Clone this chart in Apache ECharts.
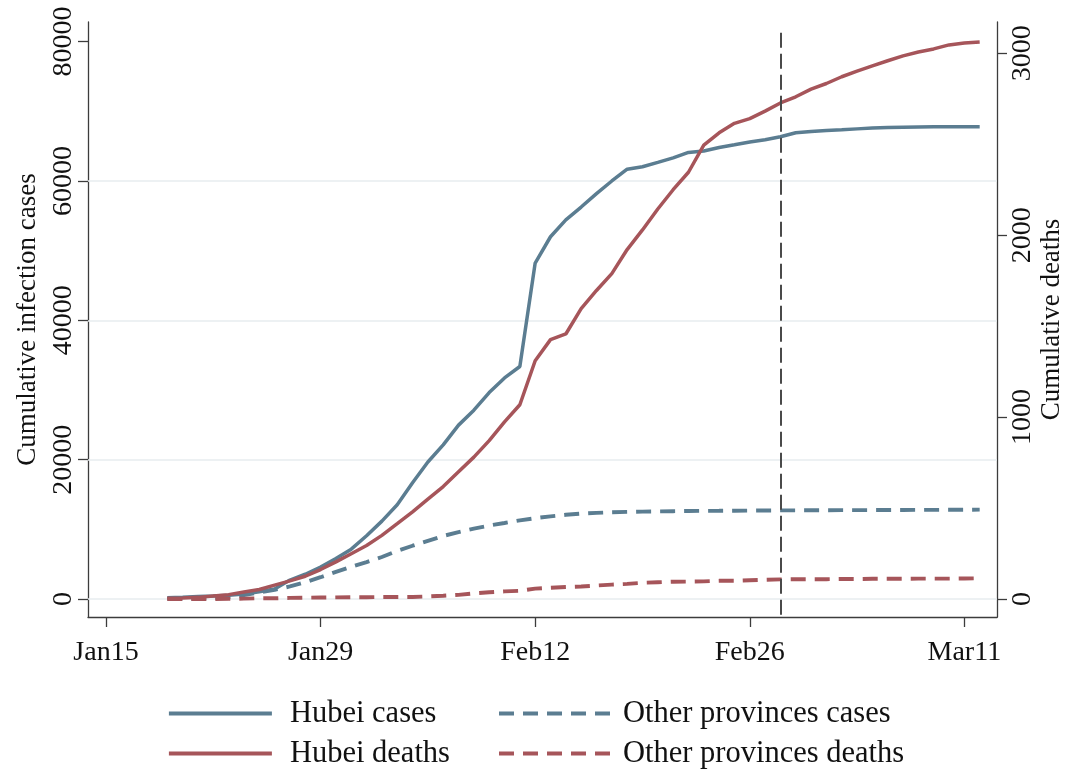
<!DOCTYPE html>
<html><head><meta charset="utf-8">
<script src="https://cdn.jsdelivr.net/npm/echarts@6/dist/echarts.min.js"></script>
<style>html,body{margin:0;padding:0;background:#fff}#c{width:1073px;height:773px}</style>
</head><body><div id="c"></div>
<script>
// ---------------- data ----------------
const dates = [
 '2020-01-19','2020-01-20','2020-01-21','2020-01-22','2020-01-23','2020-01-24','2020-01-25','2020-01-26','2020-01-27','2020-01-28',
 '2020-01-29','2020-01-30','2020-01-31','2020-02-01','2020-02-02','2020-02-03','2020-02-04','2020-02-05','2020-02-06','2020-02-07',
 '2020-02-08','2020-02-09','2020-02-10','2020-02-11','2020-02-12','2020-02-13','2020-02-14','2020-02-15','2020-02-16','2020-02-17',
 '2020-02-18','2020-02-19','2020-02-20','2020-02-21','2020-02-22','2020-02-23','2020-02-24','2020-02-25','2020-02-26','2020-02-27',
 '2020-02-28','2020-02-29','2020-03-01','2020-03-02','2020-03-03','2020-03-04','2020-03-05','2020-03-06','2020-03-07','2020-03-08',
 '2020-03-09','2020-03-10','2020-03-11','2020-03-12'];
const hubeiCases = [
 198,270,375,444,549,729,1052,1423,2714,3554,
 4586,5806,7153,9074,11177,13522,16678,19665,22112,24953,
 27100,29631,31728,33366,48206,51986,54406,56249,58182,59989,
 61682,62031,62662,63300,64084,64287,64786,65187,65596,65914,
 66337,66907,67103,67217,67332,67466,67592,67666,67707,67743,
 67760,67773,67781,67786];
const otherCases = [
 19,21,65,127,281,558,923,1321,1801,2420,
 3125,3886,4638,5306,6028,6916,7646,8353,9049,9593,
 10098,10540,10910,11287,11598,11865,12086,12251,12366,12447,
 12503,12545,12576,12602,12628,12646,12656,12668,12686,12701,
 12714,12726,12733,12745,12749,12754,12761,12767,12778,12787,
 12794,12804,12812,12824];
const hubeiDeaths = [
 4,6,9,17,24,39,52,76,100,125,
 162,204,249,294,350,414,479,549,618,699,
 780,871,974,1068,1310,1426,1457,1596,1696,1789,
 1921,2029,2144,2250,2346,2495,2563,2615,2641,2682,
 2727,2761,2803,2834,2871,2902,2931,2959,2986,3007,
 3024,3046,3056,3062];
const otherDeaths = [
 0,0,0,0,1,2,4,4,6,7,
 8,9,10,10,11,11,11,14,18,23,
 31,37,42,45,57,62,66,69,74,79,
 83,89,92,95,96,97,100,100,103,106,
 108,109,109,109,110,110,111,111,111,112,
 112,112,113,114];
const seriesNames = ['Hubei cases','Other provinces cases','Hubei deaths','Other provinces deaths'];
const xTickDates = ['2020-01-15','2020-01-29','2020-02-12','2020-02-26','2020-03-11'];
const xTickLabels = ['Jan15','Jan29','Feb12','Feb26','Mar11'];
const leftTicks = [0,20000,40000,60000,80000];
const leftGrid = [0,20000,40000,60000];
const rightTicks = [0,1000,2000,3000];
const policyDate = '2020-02-28';

// ---------------- helpers ----------------
const origin = Date.UTC(2020,0,15);
function dayOf(s){ const p=s.split('-').map(Number); return (Date.UTC(p[0],p[1]-1,p[2])-origin)/86400000; }
const xs = dates.map(dayOf);
const pair = arr => arr.map((v,i)=>[xs[i], v]);
const xTickVals = xTickDates.map(dayOf);

const FONT = 'Liberation Serif';
const BLUE = '#5b7d91';
const RED = '#a6555a';
const AX = '#3c3c3c';
const TXT = '#111';

const X_MIN=-1.174, X_MAX=58.13;
const Y_MIN=-2582, Y_MAX=82803;
const R_MIN=-98.9, R_MAX=3172;
const VLINE_TOP=81270;

const chart = echarts.init(document.getElementById('c'));
chart.setOption({
  animation:false,
  backgroundColor:'#fff',
  grid:{left:88,right:76,top:22,bottom:156,containLabel:false,outerBoundsMode:'none'},
  xAxis:{type:'value',min:X_MIN,max:X_MAX,
    axisLine:{show:true,onZero:false,lineStyle:{color:AX,width:1.3}},
    axisTick:{show:true,length:10,customValues:xTickVals,lineStyle:{color:AX,width:1.3}},
    axisLabel:{customValues:xTickVals,margin:22,fontFamily:FONT,fontSize:28,color:TXT,
      formatter:v=>{const i=xTickVals.indexOf(v);return i>=0?xTickLabels[i]:'';}},
    splitLine:{show:false}},
  yAxis:[
   {type:'value',min:Y_MIN,max:Y_MAX,position:'left',
    name:'Cumulative infection cases',nameLocation:'middle',nameGap:47,nameMoveOverlap:false,
    nameTextStyle:{fontFamily:FONT,fontSize:27,color:TXT},
    axisLine:{show:true,onZero:false,lineStyle:{color:AX,width:1.3}},
    axisTick:{show:true,length:10,customValues:leftTicks,lineStyle:{color:AX,width:1.3}},
    axisLabel:{customValues:leftTicks,rotate:90,margin:10,fontFamily:FONT,fontSize:28,color:TXT,formatter:v=>String(v)},
    splitLine:{show:false}},
   {type:'value',min:R_MIN,max:R_MAX,position:'right',
    name:'Cumulative deaths',nameLocation:'middle',nameGap:41,nameMoveOverlap:false,
    nameTextStyle:{fontFamily:FONT,fontSize:27,color:TXT},
    axisLine:{show:true,onZero:false,lineStyle:{color:AX,width:1.3}},
    axisTick:{show:true,length:10,customValues:rightTicks,lineStyle:{color:AX,width:1.3}},
    axisLabel:{customValues:rightTicks,rotate:90,margin:12,fontFamily:FONT,fontSize:28,color:TXT,formatter:v=>String(v)},
    splitLine:{show:false}}
  ],
  legend:[
   {data:[seriesNames[0],seriesNames[2]],orient:'vertical',left:167,top:698,padding:0,itemWidth:103,itemHeight:4,itemGap:9,
    itemStyle:{color:'rgba(0,0,0,0)',borderWidth:0},lineStyle:{width:3.8},
    textStyle:{fontFamily:FONT,fontSize:30.5,color:TXT,padding:[0,0,0,13]}},
   {data:[seriesNames[1],seriesNames[3]],orient:'vertical',left:497,top:698,padding:0,itemWidth:111,itemHeight:4,itemGap:9,
    itemStyle:{color:'rgba(0,0,0,0)',borderWidth:0},lineStyle:{width:4},
    textStyle:{fontFamily:FONT,fontSize:30.5,color:TXT,padding:[0,0,0,8]}}
  ],
  series:[
   {name:seriesNames[0],type:'line',yAxisIndex:0,data:pair(hubeiCases),symbol:'none',z:3,
    lineStyle:{color:BLUE,width:3.5},itemStyle:{color:BLUE},
    markLine:{silent:true,symbol:'none',z:1,label:{show:false},
      lineStyle:{color:'#e7edef',width:1.6,type:'solid'},
      data:leftGrid.map(v=>({yAxis:v}))}},
   {name:seriesNames[1],type:'line',yAxisIndex:0,data:pair(otherCases),symbol:'none',z:3,
    lineStyle:{color:BLUE,width:3.9,type:[15,9]},itemStyle:{color:BLUE},
    markLine:{silent:true,symbol:'none',z:4,label:{show:false},
      lineStyle:{color:'#4a4a4a',width:2,type:[15,6]},
      data:[[{coord:[dayOf(policyDate),VLINE_TOP]},{coord:[dayOf(policyDate),Y_MIN]}]]}},
   {name:seriesNames[2],type:'line',yAxisIndex:1,data:pair(hubeiDeaths),symbol:'none',z:3,
    lineStyle:{color:RED,width:3.5},itemStyle:{color:RED}},
   {name:seriesNames[3],type:'line',yAxisIndex:1,data:pair(otherDeaths),symbol:'none',z:3,
    lineStyle:{color:RED,width:3.9,type:[15,9]},itemStyle:{color:RED}}
  ]
});
</script></body></html>
